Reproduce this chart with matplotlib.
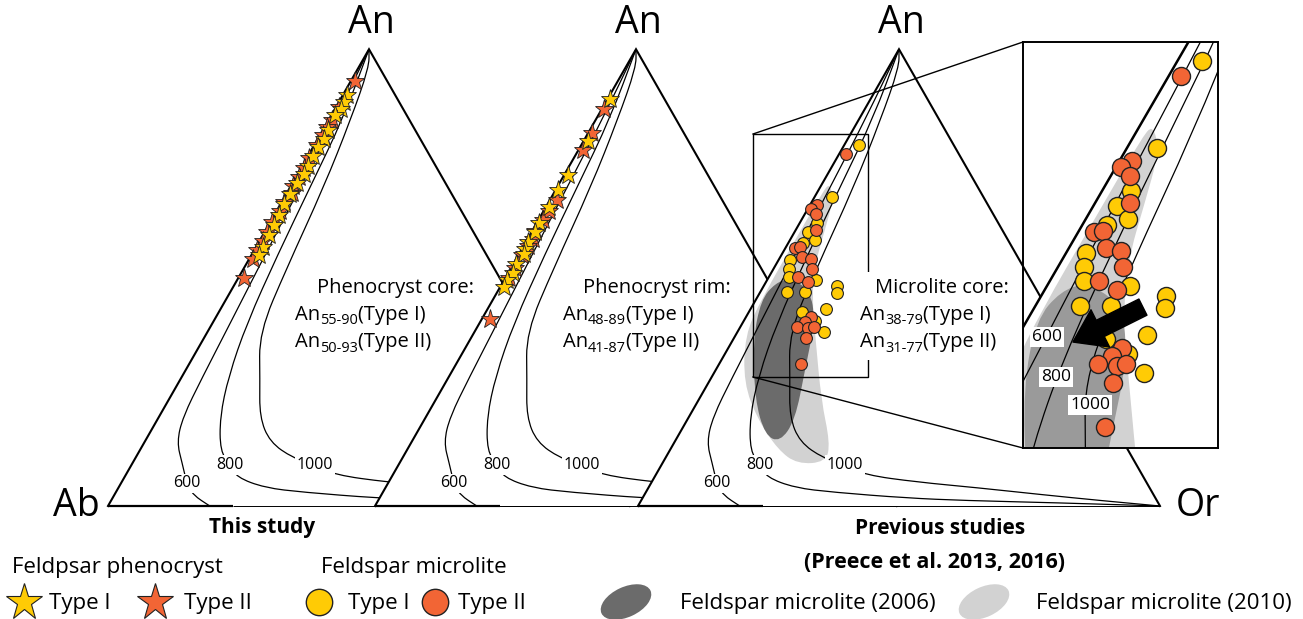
import numpy as np
import matplotlib
matplotlib.use("Agg")
import matplotlib.pyplot as plt
from matplotlib.path import Path
from matplotlib.patches import PathPatch, Polygon, Ellipse, Rectangle

plt.rcParams['font.family'] = ['Open Sans', 'DejaVu Sans']

# ---------------- compositions: ternary fractions (An, Or); Ab = 1 - An - Or ----------------
# Feldspar phenocryst cores
core_I_an = [0.90, 0.885, 0.870, 0.855, 0.824, 0.804, 0.785, 0.767, 0.745, 0.727, 0.707, 0.683,
             0.661, 0.637, 0.615, 0.593, 0.568, 0.550]
core_I_or = [0.007, 0.010, 0.011, 0.008, 0.010, 0.012, 0.009, 0.009, 0.010, 0.012, 0.009, 0.008,
             0.007, 0.010, 0.011, 0.012, 0.013, 0.014]
core_II_an = [0.930, 0.874, 0.846, 0.830, 0.812, 0.790, 0.762, 0.740, 0.720, 0.700, 0.685, 0.665,
              0.645, 0.622, 0.600, 0.580, 0.560, 0.540, 0.500]
core_II_or = [0.008, 0.005, 0.006, 0.004, 0.005, 0.006, 0.004, 0.005, 0.006, 0.004, 0.010, 0.005,
              0.007, 0.004, 0.005, 0.006, 0.005, 0.007, 0.011]

# Feldspar phenocryst rims
rim_I_an = [0.890, 0.800, 0.725, 0.692, 0.654, 0.620, 0.600, 0.577, 0.562, 0.551, 0.530, 0.511,
            0.495, 0.480]
rim_I_or = [0.005, 0.008, 0.007, 0.005, 0.006, 0.005, 0.007, 0.005, 0.006, 0.010, 0.006, 0.009,
            0.005, 0.008]
rim_II_an = [0.870, 0.816, 0.780, 0.670, 0.645, 0.626, 0.601, 0.585, 0.570, 0.550, 0.520, 0.500,
             0.410]
rim_II_or = [0.003, 0.007, 0.009, 0.014, 0.010, 0.009, 0.006, 0.010, 0.008, 0.006, 0.008, 0.006,
             0.015]

# Feldspar microlite cores (Preece et al. 2013, 2016)
micro_I_an = [0.790, 0.676, 0.619, 0.600, 0.582, 0.575, 0.538, 0.519, 0.501, 0.495, 0.468, 0.468,
              0.481, 0.466, 0.431, 0.425, 0.405, 0.381]
micro_I_or = [0.028, 0.034, 0.033, 0.026, 0.048, 0.028, 0.022, 0.030, 0.039, 0.094, 0.051, 0.086,
              0.141, 0.148, 0.145, 0.102, 0.137, 0.166]
micro_II_an = [0.770, 0.659, 0.650, 0.639, 0.604, 0.565, 0.567, 0.545, 0.540, 0.519, 0.501, 0.490,
               0.414, 0.403, 0.392, 0.390, 0.392, 0.368, 0.310]
micro_II_or = [0.014, 0.014, 0.006, 0.022, 0.039, 0.018, 0.027, 0.042, 0.061, 0.074, 0.056, 0.081,
               0.125, 0.119, 0.109, 0.131, 0.141, 0.138, 0.158]

# Microlite fields (outlines)
field2006_an = [0.499, 0.473, 0.407, 0.298, 0.188, 0.140, 0.155, 0.232, 0.363, 0.451, 0.488]
field2006_or = [0.042, 0.093, 0.136, 0.171, 0.207, 0.202, 0.166, 0.108, 0.039, 0.010, 0.019]
field2010_an = [0.707, 0.670, 0.604, 0.527, 0.451, 0.363, 0.232, 0.138, 0.096, 0.092, 0.123,
                0.188, 0.269, 0.374, 0.451, 0.600, 0.687]
field2010_or = [0.014, 0.039, 0.056, 0.075, 0.108, 0.159, 0.235, 0.299, 0.312, 0.259, 0.207,
                0.136, 0.068, 0.018, 0.010, 0.010, 0.010]

# Ternary feldspar isotherms (deg C)
iso_temps = ['600', '800', '1000']
iso600_an = [1.00, 0.85, 0.70, 0.55, 0.40, 0.28, 0.195, 0.14, 0.094, 0.05, 0.024, 0.00]
iso600_or = [0.00, 0.012, 0.019, 0.026, 0.034, 0.040, 0.046, 0.062, 0.095, 0.126, 0.151, 0.195]
iso800_an = [1.00, 0.85, 0.70, 0.55, 0.40, 0.284, 0.195, 0.12, 0.090, 0.063, 0.040, 0.030,
             0.0175, 0.012, 0.007, 0.00]
iso800_or = [0.00, 0.026, 0.038, 0.050, 0.066, 0.089, 0.117, 0.155, 0.189, 0.215, 0.28, 0.36,
             0.506, 0.62, 0.80, 1.00]
iso1000_an = [1.00, 0.96, 0.845, 0.70, 0.52, 0.38, 0.276, 0.195, 0.14, 0.105, 0.090, 0.068,
              0.0525, 0.040, 0.025, 0.012, 0.00]
iso1000_or = [0.00, 0.02, 0.042, 0.064, 0.082, 0.10, 0.153, 0.193, 0.24, 0.302, 0.352, 0.401,
              0.508, 0.63, 0.76, 0.88, 1.00]
iso_label_an = [0.050, 0.0897, 0.0897]
iso_label_or = [0.126, 0.189, 0.352]

panel_titles = ['Phenocryst core:', 'Phenocryst rim:', 'Microlite core:']
panel_range1 = ['55-90', '48-89', '38-79']
panel_range2 = ['50-93', '41-87', '31-77']

YELLOW = '#FFCB05'
ORANGE = '#F26535'
DARK_FIELD = '#6b6b6b'
LIGHT_FIELD = '#d2d2d2'

# ---------------- geometry ----------------
FIG_W, FIG_H, DPI = 1303, 619, 100
PX = 522.0                 # pixels per unit side
ORIGIN = (108.0, 506.0)    # Ab corner of the first diagram, pixels
TRI_H = 0.875              # apex height / side
SHIFT = [0.0, 0.5115, 1.0153]
BASE_HEAVY = 0.24          # heavy part of the Ab-Or join (fraction Or)


def tern(an, orr, k):
    an = np.asarray(an, float)
    orr = np.asarray(orr, float)
    return SHIFT[k] + orr + 0.5 * an, TRI_H * an


def smooth_path(x, y, closed=False):
    pts = np.column_stack([x, y])
    if closed:
        mids = (pts + np.roll(pts, -1, axis=0)) / 2
        verts = [mids[-1]]
        codes = [Path.MOVETO]
        for i in range(len(pts)):
            verts += [pts[i], mids[i]]
            codes += [Path.CURVE3, Path.CURVE3]
        verts.append(mids[-1])
        codes.append(Path.CLOSEPOLY)
    else:
        mids = (pts[:-1] + pts[1:]) / 2
        verts = [pts[0], mids[0]]
        codes = [Path.MOVETO, Path.LINETO]
        for i in range(1, len(pts) - 1):
            verts += [pts[i], mids[i]]
            codes += [Path.CURVE3, Path.CURVE3]
        verts.append(pts[-1])
        codes.append(Path.LINETO)
    return Path(verts, codes)


fig = plt.figure(figsize=(FIG_W / DPI, FIG_H / DPI), dpi=DPI)
renderer = fig.canvas.get_renderer()
ax = fig.add_axes([0, 0, 1, 1])
ax.set_xlim(-ORIGIN[0] / PX, (FIG_W - ORIGIN[0]) / PX)
ax.set_ylim(-(FIG_H - ORIGIN[1]) / PX, ORIGIN[1] / PX)
ax.axis('off')

isotherms = [(iso600_an, iso600_or), (iso800_an, iso800_or), (iso1000_an, iso1000_or)]


def draw_diagram(a, k, inset=False):
    z = 10 * k
    vx, vy = tern([0, 1, 0], [0, 0, 1], k)
    a.add_patch(Polygon(np.column_stack([vx, vy]), closed=True, fc='white', ec='none', zorder=z))
    if k == 2:
        fx, fy = tern(field2010_an, field2010_or, k)
        a.add_patch(PathPatch(smooth_path(fx, fy, closed=True), fc=LIGHT_FIELD, ec='none', zorder=z + 1))
        fx, fy = tern(field2006_an, field2006_or, k)
        a.add_patch(PathPatch(smooth_path(fx, fy, closed=True),
                              fc=('#9a9a9a' if inset else DARK_FIELD), ec='none', zorder=z + 1))
    for an, orr in isotherms:
        ix, iy = tern(an, orr, k)
        a.add_patch(PathPatch(smooth_path(ix, iy), fc='none', ec='black', lw=0.9, zorder=z + 2))
    # An-Ab and An-Or sides
    a.plot(vx, vy, color='black', lw=1.8 if inset else 1.5, solid_joinstyle='miter', zorder=z + 3)
    # Ab-Or join
    bx, by = tern([0, 0, 0], [0, BASE_HEAVY, 1], k)
    a.plot(bx[:2], by[:2], color='black', lw=1.6, solid_capstyle='butt', zorder=z + 3)
    a.plot(bx[1:], by[1:], color='black', lw=0.7, solid_capstyle='butt', zorder=z + 3)
    if not inset:
        for t, lan, lor in zip(iso_temps, iso_label_an, iso_label_or):
            lx, ly = tern(lan, lor, k)
            a.text(lx, ly, t, ha='center', va='center', fontsize=11.5, zorder=z + 4,
                   bbox=dict(boxstyle='square,pad=0.1', fc='white', ec='none'))


star_kw = dict(ls='none', marker='*', ms=14, mec='#222222', mew=0.6)
circ_kw = dict(ls='none', marker='o', ms=8.5, mec='#222222', mew=0.8)

# Diagram 1: phenocryst cores
draw_diagram(ax, 0)
x, y = tern(core_II_an, core_II_or, 0)
ax.plot(x, y, mfc=ORANGE, zorder=6, **star_kw)
x, y = tern(core_I_an, core_I_or, 0)
ax.plot(x, y, mfc=YELLOW, zorder=7, **star_kw)

# Diagram 2: phenocryst rims
draw_diagram(ax, 1)
x, y = tern(rim_II_an, rim_II_or, 1)
ax.plot(x, y, mfc=ORANGE, zorder=16, **star_kw)
x, y = tern(rim_I_an, rim_I_or, 1)
ax.plot(x, y, mfc=YELLOW, zorder=17, **star_kw)

# Diagram 3: microlite cores
draw_diagram(ax, 2)
x, y = tern(micro_I_an, micro_I_or, 2)
ax.plot(x, y, mfc=YELLOW, zorder=26, **circ_kw)
x, y = tern(micro_II_an, micro_II_or, 2)
ax.plot(x, y, mfc=ORANGE, zorder=27, **circ_kw)

# enlarged window
win_x0, win_x1 = (753 - ORIGIN[0]) / PX, (868 - ORIGIN[0]) / PX
win_y0, win_y1 = (ORIGIN[1] - 377) / PX, (ORIGIN[1] - 134) / PX
ax.add_patch(Rectangle((win_x0, win_y0), win_x1 - win_x0, win_y1 - win_y0, fc='none',
                       ec='black', lw=1.0, zorder=30))

# apex / corner labels
for k in range(3):
    axx, axy = tern(1, 0, k)
    ax.annotate('An', (axx, axy), xytext=(2, 5), textcoords='offset points', ha='center',
                va='bottom', fontsize=27, zorder=40)
abx, aby = tern(0, 0, 0)
ax.annotate('Ab', (abx, aby), xytext=(-6, 0), textcoords='offset points', ha='right',
            va='center', fontsize=27, zorder=40)
orx, ory = tern(0, 1, 2)
ax.annotate('Or', (orx, ory), xytext=(11, 0), textcoords='offset points', ha='left',
            va='center', fontsize=27, zorder=40)

# ---------------- overlay for annotation text and key (pixel coordinates) ----------------
lay = fig.add_axes([0, 0, 1, 1], zorder=5)
lay.set_xlim(0, FIG_W)
lay.set_ylim(FIG_H, 0)
lay.axis('off')


def rich_text(x, y, parts, fs):
    """Left-aligned text on a baseline; parts are (string, is_subscript)."""
    cur = x
    for s, sub in parts:
        t = lay.text(cur, y + (4.5 if sub else 0), s, fontsize=fs * (0.72 if sub else 1.0),
                     ha='left', va='baseline', zorder=2)
        cur += t.get_window_extent(renderer).width


lay.plot([753, 1023], [134, 42], color='black', lw=1.0)
lay.plot([753, 1023], [377, 448], color='black', lw=1.0)
lay.add_patch(Rectangle((863, 272), 152, 88, fc='white', ec='none', zorder=1))

title_x = [317, 583, 875]
type_x = [295, 563, 860]
for k in range(3):
    rich_text(title_x[k], 293, [(panel_titles[k], False)], 14.5)
    rich_text(type_x[k], 320, [('An', False), (panel_range1[k], True), ('(Type I)', False)], 14.5)
    rich_text(type_x[k], 347, [('An', False), (panel_range2[k], True), ('(Type II)', False)], 14.5)

lay.text(262, 528, 'This study', ha='center', va='center', fontsize=15, fontweight='bold')
lay.text(940, 528, 'Previous studies', ha='center', va='center', fontsize=15, fontweight='bold')
lay.text(934, 563, '(Preece et al. 2013, 2016)', ha='center', va='center', fontsize=15.5,
         fontweight='bold')

# key
KEY_FS = 16
lay.text(12, 568, 'Feldpsar phenocryst', ha='left', va='center', fontsize=KEY_FS)
lay.text(321, 568, 'Feldspar microlite', ha='left', va='center', fontsize=KEY_FS)
lay.plot([24], [602], ls='none', marker='*', ms=28, mfc=YELLOW, mec='#222222', mew=0.8)
lay.text(49, 603, 'Type I', ha='left', va='center', fontsize=KEY_FS)
lay.plot([155], [602], ls='none', marker='*', ms=28, mfc=ORANGE, mec='#222222', mew=0.8)
lay.text(184, 603, 'Type II', ha='left', va='center', fontsize=KEY_FS)
lay.plot([319], [602], ls='none', marker='o', ms=19, mfc=YELLOW, mec='#222222', mew=1.0)
lay.text(348, 603, 'Type I', ha='left', va='center', fontsize=KEY_FS)
lay.plot([435], [602], ls='none', marker='o', ms=19, mfc=ORANGE, mec='#222222', mew=1.0)
lay.text(458, 603, 'Type II', ha='left', va='center', fontsize=KEY_FS)
lay.add_patch(Ellipse((626, 602), 54, 30, angle=-25, fc=DARK_FIELD, ec='none'))
lay.text(680, 603, 'Feldspar microlite (2006)', ha='left', va='center', fontsize=KEY_FS)
lay.add_patch(Ellipse((984, 602), 54, 30, angle=-25, fc=LIGHT_FIELD, ec='none'))
lay.text(1036, 603, 'Feldspar microlite (2010)', ha='left', va='center', fontsize=KEY_FS)

# ---------------- magnified view of the microlite window ----------------
ins = fig.add_axes([1023 / FIG_W, 1 - 448 / FIG_H, 195 / FIG_W, 406 / FIG_H], zorder=10)
ins.patch.set_alpha(0)
draw_diagram(ins, 2, inset=True)
x, y = tern(micro_I_an, micro_I_or, 2)
ins.plot(x, y, ls='none', marker='o', ms=13, mfc=YELLOW, mec='#222222', mew=1.0, zorder=26)
x, y = tern(micro_II_an, micro_II_or, 2)
ins.plot(x, y, ls='none', marker='o', ms=13, mfc=ORANGE, mec='#222222', mew=1.0, zorder=27)
ins.set_xlim(win_x0, win_x1)
ins.set_ylim(win_y0, win_y1)
ins.set_xticks([])
ins.set_yticks([])
for s in ins.spines.values():
    s.set_linewidth(1.4)
    s.set_zorder(50)
for t, pos in zip(iso_temps, [(0.123, 0.273), (0.169, 0.175), (0.344, 0.106)]):
    ins.text(pos[0], pos[1], t, transform=ins.transAxes, ha='center', va='center',
             fontsize=12.5, zorder=40,
             bbox=dict(boxstyle='square,pad=0.12', fc='white', ec='none'))
ins.annotate('', xy=(0.256, 0.261), xytext=(0.615, 0.347), xycoords='axes fraction',
             textcoords='axes fraction', zorder=45,
             arrowprops=dict(arrowstyle='simple,head_length=1.1,head_width=1.5,tail_width=0.65',
                             fc='black', ec='black', mutation_scale=20, shrinkA=0, shrinkB=0))

fig.savefig('out.png', dpi=DPI)
